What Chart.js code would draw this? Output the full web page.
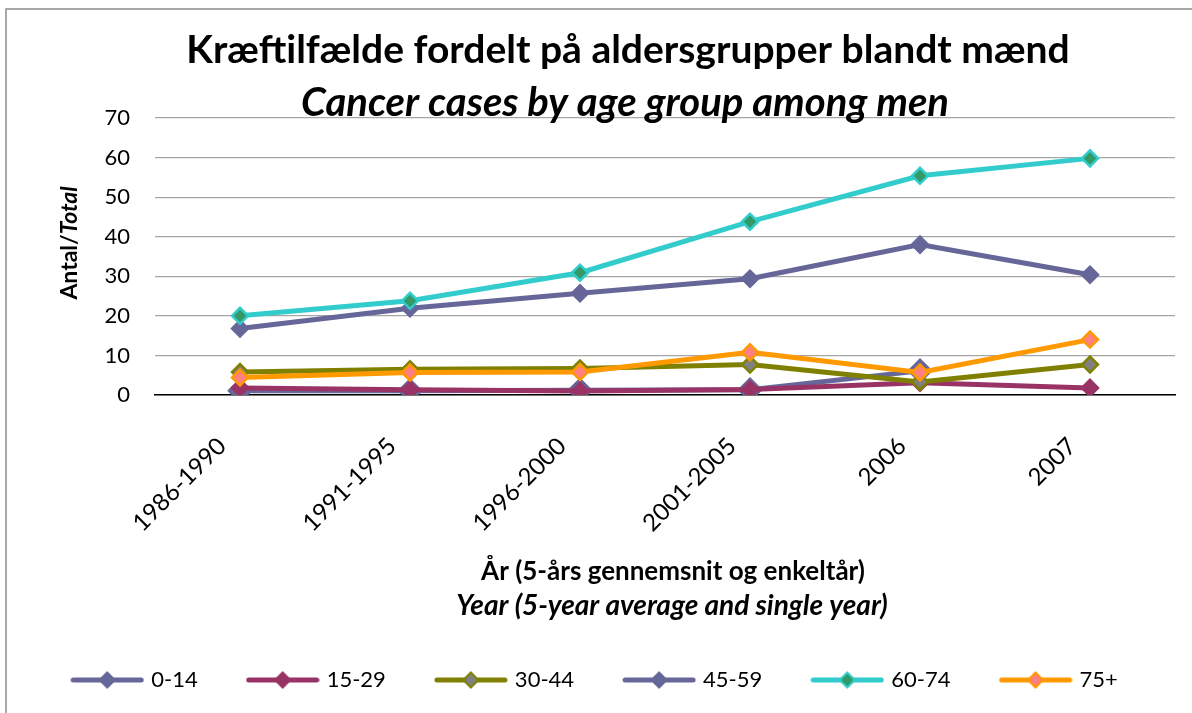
<!DOCTYPE html>
<html>
<head>
<meta charset="utf-8">
<script src="https://cdn.jsdelivr.net/npm/chart.js@4.4.1/dist/chart.umd.min.js"></script>
<style>
html,body{margin:0;padding:0;background:#fff;}
#wrap{width:1192px;height:713px;position:relative;overflow:hidden;}
</style>
</head>
<body>
<div id="wrap"><canvas id="c" width="1192" height="713"></canvas></div>
<script>
// ---- data ----
const categories = ['1986-1990', '1991-1995', '1996-2000', '2001-2005', '2006', '2007'];
const seriesNames = ['0-14', '15-29', '30-44', '45-59', '60-74', '75+'];
const v0_14  = [1.1, 1.1, 1.2, 1.3, 6.1, null];
const v15_29 = [1.8, 1.3, 1.0, 1.4, 3.1, 1.8];
const v30_44 = [5.8, 6.5, 6.7, 7.7, 3.3, 7.7];
const v45_59 = [16.8, 21.9, 25.7, 29.4, 38.0, 30.4];
const v60_74 = [20.0, 23.8, 30.9, 43.8, 55.4, 59.8];
const v75    = [4.4, 5.7, 5.8, 10.8, 5.7, 14.0];
const yTickMin = 0, yTickMax = 70, yTickStep = 10;

const titleText = 'Kræftilfælde fordelt på aldersgrupper blandt mænd';
const subtitleText = 'Cancer cases by age group among men';
const xTitle1 = 'År (5-års gennemsnit og enkeltår)';
const xTitle2 = 'Year (5-year average and single year)';
const yTitleA = 'Antal/';
const yTitleB = 'Total';

// ---- styles ----
const seriesValues = [v0_14, v15_29, v30_44, v45_59, v60_74, v75];
const lineColors   = ['#666699', '#993366', '#808000', '#666699', '#33CCCC', '#FF9900'];
const pointFills   = ['#666699', '#993366', '#808080', '#666699', '#339966', '#FF8080'];
const pointBorders = ['#666699', '#993366', '#808000', '#666699', '#33CCCC', '#FF9900'];
const pointRadii   = [11, 8, 8, 8, 8, 8];
const FONT = 'Lato';

function makeLegendImg(i) {
  const c = document.createElement('canvas');
  c.width = 74; c.height = 22;
  const g = c.getContext('2d');
  g.strokeStyle = lineColors[i];
  g.lineWidth = 5;
  g.lineCap = 'round';
  g.beginPath(); g.moveTo(3, 11); g.lineTo(71, 11); g.stroke();
  const r = 7.5;
  g.beginPath();
  g.moveTo(37, 11 - r); g.lineTo(37 + r, 11); g.lineTo(37, 11 + r); g.lineTo(37 - r, 11); g.closePath();
  g.fillStyle = pointFills[i]; g.fill();
  g.lineWidth = 2; g.strokeStyle = pointBorders[i]; g.stroke();
  return c;
}

const textPlugin = {
  id: 'texts',
  beforeDraw(chart) {
    const ctx = chart.ctx;
    ctx.save();
    ctx.strokeStyle = '#8c8c8c';
    ctx.lineWidth = 1.5;
    ctx.beginPath();
    ctx.moveTo(6, 713); ctx.lineTo(6, 9); ctx.lineTo(1192, 9);
    ctx.stroke();
    ctx.restore();
  },
  afterDraw(chart) {
    const ctx = chart.ctx;
    ctx.save();
    ctx.fillStyle = '#000';
    ctx.textAlign = 'center';
    ctx.textBaseline = 'middle';
    ctx.font = 'bold 39px ' + FONT;
    ctx.fillText(titleText, 628, 50);
    ctx.font = 'italic bold 40px ' + FONT;
    ctx.fillText(subtitleText, 625, 103);
    ctx.font = 'bold 26px ' + FONT;
    ctx.fillText(xTitle1, 673, 572);
    ctx.font = 'italic bold 28px ' + FONT;
    ctx.fillText(xTitle2, 672, 606);
    // y title
    ctx.translate(70, 243);
    ctx.rotate(-Math.PI / 2);
    ctx.textAlign = 'left';
    ctx.font = 'bold 23px ' + FONT;
    const wA = ctx.measureText(yTitleA).width;
    ctx.font = 'italic bold 23px ' + FONT;
    const wB = ctx.measureText(yTitleB).width;
    const start = -(wA + wB) / 2;
    ctx.font = 'bold 23px ' + FONT;
    ctx.fillText(yTitleA, start, 0);
    ctx.font = 'italic bold 23px ' + FONT;
    ctx.fillText(yTitleB, start + wA, 0);
    ctx.restore();
  }
};

function build() {
  Chart.defaults.font.family = FONT;
  Chart.defaults.color = '#000';
  const legendImgs = seriesNames.map((n, i) => makeLegendImg(i));
  const datasets = seriesNames.map((name, i) => ({
    label: name,
    data: seriesValues[i],
    borderColor: lineColors[i],
    backgroundColor: pointFills[i],
    borderWidth: 5,
    pointStyle: 'rectRot',
    pointRadius: pointRadii[i],
    pointBackgroundColor: pointFills[i],
    pointBorderColor: pointBorders[i],
    pointBorderWidth: 2.5,
    tension: 0,
    spanGaps: false,
    order: seriesNames.length - i
  }));
  new Chart(document.getElementById('c'), {
    type: 'line',
    data: { labels: categories, datasets },
    options: {
      responsive: false,
      devicePixelRatio: 1,
      animation: false,
      events: [],
      layout: { padding: { top: 118, left: 17, right: 17, bottom: 12 } },
      scales: {
        x: {
          offset: true,
          grid: { display: true, drawOnChartArea: false, drawTicks: false },
          border: { display: true, color: '#000', width: 1.5 },
          ticks: {
            minRotation: 45, maxRotation: 45, autoSkip: false,
            padding: 37, labelOffset: -18,
            font: { size: 24 }, color: '#000'
          },
          title: { display: false },
          afterFit(scale) { scale.height = 222; }
        },
        y: {
          min: yTickMin, max: yTickMax,
          grid: { color: '#a6a6a6', lineWidth: 1.2, drawTicks: false },
          border: { display: false },
          ticks: { stepSize: yTickStep, autoSkip: false, padding: 25, font: { size: 22 }, color: '#000' },
          afterFit(scale) { scale.width = 155 - 17; }
        }
      },
      plugins: {
        title: { display: false },
        tooltip: { enabled: false },
        legend: {
          display: true,
          position: 'bottom',
          labels: {
            usePointStyle: true,
            pointStyleWidth: 66,
            padding: 52,
            color: '#000',
            font: { size: 22 },
            sort: (a, b) => a.datasetIndex - b.datasetIndex,
            generateLabels(chart) {
              const items = Chart.defaults.plugins.legend.labels.generateLabels(chart);
              items.forEach(it => { it.pointStyle = legendImgs[it.datasetIndex]; it.fontColor = '#000'; });
              return items;
            }
          }
        }
      }
    },
    plugins: [textPlugin]
  });
}

const fontLoads = ['22px Lato', '24px Lato', 'bold 22px Lato', 'bold 26px Lato', 'italic bold 22px Lato', 'bold 39px Lato', 'italic bold 40px Lato']
  .map(f => document.fonts.load(f).catch(() => null));
Promise.race([Promise.all(fontLoads), new Promise(r => setTimeout(r, 1500))]).then(build);
</script>
</body>
</html>
